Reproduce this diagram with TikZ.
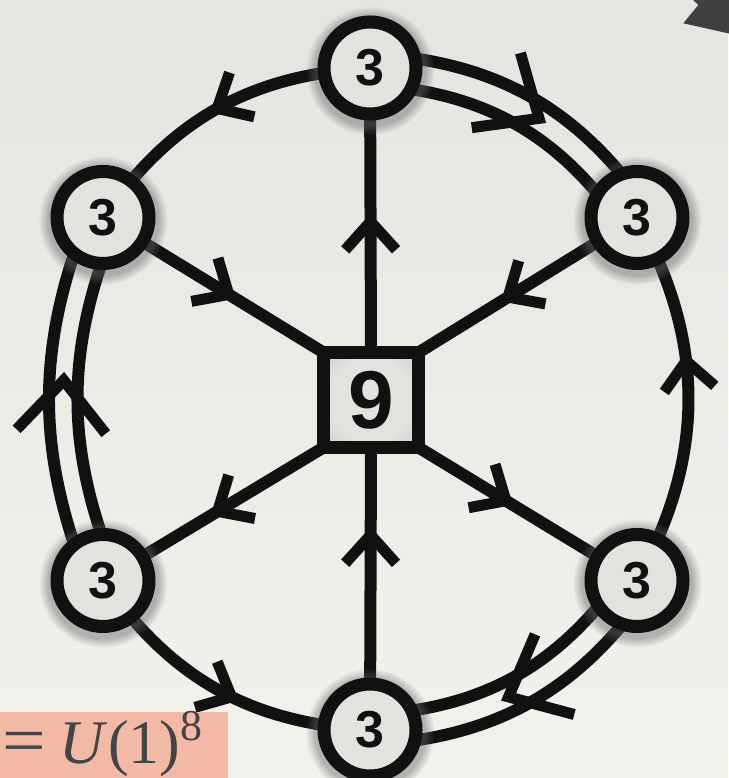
\documentclass[tikz,border=0pt]{standalone}
\usepackage{fontspec}
\setmainfont{Liberation Serif}
\newfontfamily\hv{Liberation Sans}
\usetikzlibrary{calc,decorations.markings,shadows}
\pgfdeclarelayer{background}
\pgfdeclarelayer{edges}
\pgfsetlayers{background,edges,main}
\definecolor{ink}{HTML}{111111}
\definecolor{paperTop}{HTML}{E6E4E0}
\definecolor{paperBot}{HTML}{F3F1EC}
\definecolor{nodeIn}{HTML}{E4E2DF}
\definecolor{nodeOut}{HTML}{C2C0BD}
\definecolor{salmon}{HTML}{F2B9A6}
\definecolor{textgray}{HTML}{444444}
\definecolor{darkshape}{HTML}{404040}
\pgfdeclareradialshading{vign}{\pgfpoint{0bp}{0bp}}{color(0bp)=(nodeIn); color(22bp)=(nodeIn); color(43bp)=(nodeOut); color(50bp)=(nodeOut)}
\begin{document}
\begin{tikzpicture}[x=1pt,y=1pt,
  qnode/.style={circle, draw=ink, line width=13pt, minimum size=92pt, inner sep=0pt, outer sep=0pt,
    shade, shading=vign, text=ink, font=\hv\bfseries\fontsize{52}{52}\selectfont,
    circular drop shadow={shadow xshift=0pt, shadow yshift=-2pt, shadow scale=1.4, opacity=0.45, fill=black!60}},
  snode/.style={rectangle, draw=ink, line width=13pt, minimum size=95pt, inner sep=0pt, outer sep=0pt,
    shade, shading=vign, text=ink, font=\hv\bfseries\fontsize{82}{82}\selectfont},
  edge/.style={draw=ink, line width=12pt, line cap=butt},
  chev/.style={draw=ink, line width=11pt, line cap=butt, line join=miter},
  arrowat/.style={postaction={decorate, decoration={markings,
     mark=at position #1 with {\draw[chev] (-28.2,25.4) -- (0,0) -- (-28.2,-25.4);}}}},
  bigarrowat/.style={postaction={decorate, decoration={markings,
     mark=at position #1 with {\draw[chev] (-51.3,44.6) -- (0,0) -- (-51.3,-44.6);}}}}
]
\useasboundingbox (0,0) rectangle (728,778);
\begin{pgfonlayer}{background}
  \fill[top color=paperTop, bottom color=paperBot] (0,0) rectangle (728,778);
\end{pgfonlayer}

\coordinate (O) at (370,379);
\node[qnode] (T)  at (370,710)   {3};
\node[qnode] (TL) at (103,560.5) {3};
\node[qnode] (TR) at (637,560.5) {3};
\node[qnode] (BL) at (103,197.5) {3};
\node[qnode] (BR) at (637,197.5) {3};
\node[qnode] (B)  at (370,48)    {3};
\node[snode] (S)  at (371,378)   {9};

\begin{pgfonlayer}{edges}
  % outer ring, single lines
  \draw[edge, arrowat=0.5]  (T.center)  to[bend right=26] (TL.center);
  \draw[edge, arrowat=0.6]  (BR.center) to[bend right=29] (TR.center);
  \draw[edge, arrowat=0.55] (BL.center) to[bend right=26] (B.center);
  % outer ring, double lines
  \draw[edge] ($(T.center)!-14pt!(O)$) to[bend left=26] ($(TR.center)!-14pt!(O)$);
  \draw[edge] ($(T.center)!17pt!(O)$)  to[bend left=26] ($(TR.center)!17pt!(O)$);
  \path[bigarrowat=0.56] (T.center) to[bend left=26] (TR.center);
  \draw[edge] ($(BR.center)!-15pt!(O)$) to[bend left=26] ($(B.center)!-15pt!(O)$);
  \draw[edge] ($(BR.center)!15pt!(O)$)  to[bend left=26] ($(B.center)!15pt!(O)$);
  \path[bigarrowat=0.55] (BR.center) to[bend left=26] (B.center);
  \draw[edge] ($(BL.center)!-15pt!(O)$) to[bend left=22] ($(TL.center)!-15pt!(O)$);
  \draw[edge] ($(BL.center)!15pt!(O)$)  to[bend left=22] ($(TL.center)!15pt!(O)$);
  \path[bigarrowat=0.55] (BL.center) to[bend left=22] (TL.center);
  % spokes
  \draw[edge, arrowat=0.46] (S.north) -- (T.center);
  \draw[edge, arrowat=0.57] (TL.center) -- (S.north west);
  \draw[edge, arrowat=0.59] (TR.center) -- (S.north east);
  \draw[edge, arrowat=0.48] (S.south west) -- (BL.center);
  \draw[edge, arrowat=0.69] (B.center) -- (S.south);
  \draw[edge, arrowat=0.40] (S.south east) -- (BR.center);
\end{pgfonlayer}

% label box, bottom left
\fill[salmon] (-5,0) rectangle (228,66);
\node[anchor=base west, text=textgray, inner sep=0pt, font=\fontsize{62}{62}\selectfont] (eq) at (2,14)
  {\scalebox{1.25}[1.1]{=}\hspace{14pt}\textit{U}(1)\raisebox{23pt}{\fontsize{44}{44}\selectfont 8}};

% dark shape, top right
\fill[darkshape] (683.3,754.7) -- (698.3,773) -- (688,783) -- (740,783) -- (740,742) -- cycle;
\end{tikzpicture}
\end{document}
